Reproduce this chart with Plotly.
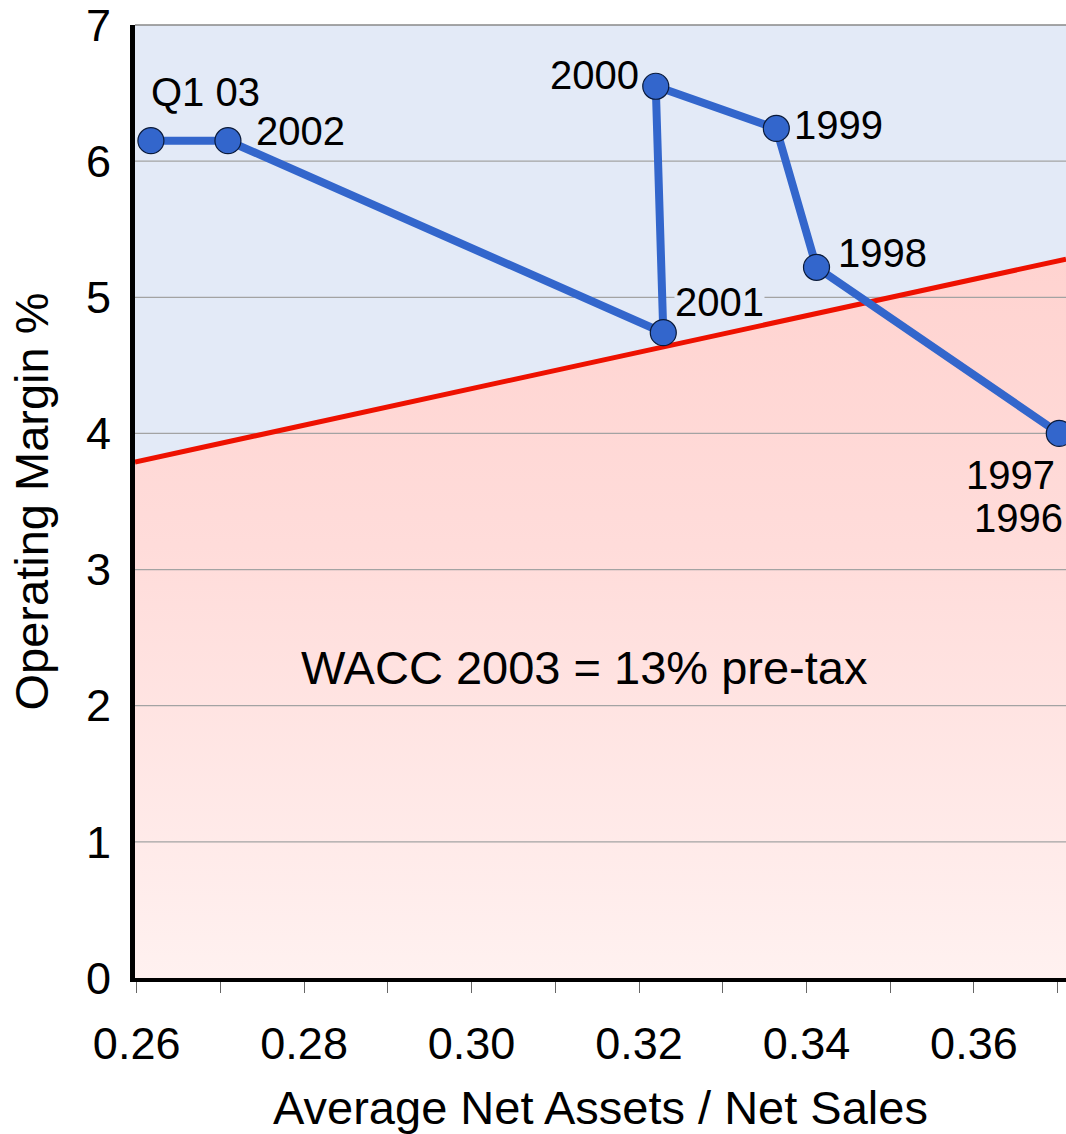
import plotly.graph_objects as go

# Operating margin vs. asset intensity, 1996 - Q1 2003
years = ["Q1 03", "2002", "2001", "2000", "1999", "1998", "1997"]
asset_ratio = [0.2617, 0.2709, 0.3229, 0.3220, 0.3364, 0.3412, 0.3702]
op_margin = [6.15, 6.15, 4.74, 6.55, 6.24, 5.22, 4.00]

# WACC hurdle line (13% pre-tax) across the shown range
wacc_x = [0.2598, 0.3710]
wacc_y = [3.79, 5.28]

x_range = [0.2598, 0.3710]
y_range = [0, 7]
y_ticks = [0, 1, 2, 3, 4, 5, 6, 7]
grid_levels = [1, 2, 3, 4, 5, 6]

FONT = "Liberation Sans, Arial, Helvetica, sans-serif"
BLUE_BG = "#e3eaf7"
LINE_BLUE = "#3366cc"

fig = go.Figure()

# value-destroying zone below the hurdle line
fig.add_trace(go.Scatter(
    x=wacc_x, y=wacc_y, mode="none", fill="tozeroy",
    fillgradient=dict(type="vertical", start=0, stop=5.3,
                      colorscale=[[0, "#fff1f0"], [0.6, "#ffdcda"], [1, "#ffd3d0"]]),
    hoverinfo="skip", showlegend=False,
))

# horizontal grid drawn over the fill
gx, gy = [], []
for lv in grid_levels:
    gx += [x_range[0], x_range[1], None]
    gy += [lv, lv, None]
fig.add_trace(go.Scatter(x=gx, y=gy, mode="lines",
                         line=dict(color="#a3a3a3", width=1.2),
                         hoverinfo="skip", showlegend=False))

# hurdle line
fig.add_trace(go.Scatter(x=wacc_x, y=wacc_y, mode="lines",
                         line=dict(color="#ee1100", width=5),
                         hoverinfo="skip", showlegend=False))

# company path
fig.add_trace(go.Scatter(
    x=asset_ratio, y=op_margin, mode="lines+markers",
    line=dict(color=LINE_BLUE, width=8),
    marker=dict(size=26, color=LINE_BLUE, line=dict(color="#0a1a3a", width=1.2)),
    cliponaxis=False, showlegend=False,
))

# label placement in page pixels (centre x, centre y)
label_pos = {
    "Q1 03": (205, 92),
    "2002": (300, 131),
    "2001": (719, 302),
    "2000": (594, 75),
    "1999": (838, 125),
    "1998": (882, 253),
    "1997": (1010, 475),
}
annotations = []
for name, (px, py) in label_pos.items():
    ann = dict(
        x=px, y=py, xref="paper", yref="paper", text=name, showarrow=False,
        font=dict(family=FONT, size=40, color="black"),
        xanchor="center", yanchor="middle",
    )
    if name == "2001":
        ann.update(bgcolor=BLUE_BG, borderpad=0, height=34, valign="middle")
    annotations.append(ann)
annotations.append(dict(x=1065, y=518, xref="paper", yref="paper", text="1996",
                        showarrow=False, xanchor="right", yanchor="middle",
                        font=dict(family=FONT, size=40, color="black")))
annotations.append(dict(x=584, y=667, xref="paper", yref="paper",
                        text="WACC 2003 = 13% pre-tax", showarrow=False,
                        xanchor="center", yanchor="middle",
                        font=dict(family=FONT, size=47, color="black")))

# convert pixel positions to paper fractions of the plot area
L, R, T, B = 135, 0, 25, 156
W, H = 1066, 1134
pw, ph = W - L - R, H - T - B
for a in annotations:
    a["x"] = (a["x"] - L) / pw
    a["y"] = 1 - (a["y"] - T) / ph

fig.update_layout(
    width=W, height=H,
    margin=dict(l=L, r=R, t=T, b=B, pad=0),
    paper_bgcolor="white", plot_bgcolor=BLUE_BG,
    font=dict(family=FONT, color="black"),
    annotations=annotations,
    shapes=[dict(type="line", xref="paper", yref="paper", x0=0, x1=1, y0=1, y1=1,
                 line=dict(color="#888888", width=1.5), layer="above")],
)
fig.update_xaxes(
    range=x_range, tick0=0.26, dtick=0.02, tickformat=".2f",
    showgrid=False, zeroline=False,
    showline=True, linecolor="black", linewidth=4,
    ticks="outside", ticklen=11, tickwidth=1.2, tickcolor="#666666",
    minor=dict(dtick=0.01, tick0=0.26, ticks="outside", ticklen=11,
               tickwidth=1.2, tickcolor="#666666", showgrid=False),
    tickfont=dict(size=45), ticklabelstandoff=12,
    title=dict(text="Average Net Assets / Net Sales", font=dict(size=47), standoff=25),
)
fig.update_yaxes(
    range=y_range, tickmode="array", tickvals=y_ticks, ticktext=[str(v) for v in y_ticks],
    showgrid=False, zeroline=False,
    showline=True, linecolor="black", linewidth=5,
    ticks="outside", ticklen=6, tickcolor="rgba(0,0,0,0)",
    tickfont=dict(size=45), ticklabelstandoff=4, ticklabeloverflow="allow",
    title=dict(text="Operating Margin %", font=dict(size=47), standoff=24),
)

fig.write_html("out.html")
